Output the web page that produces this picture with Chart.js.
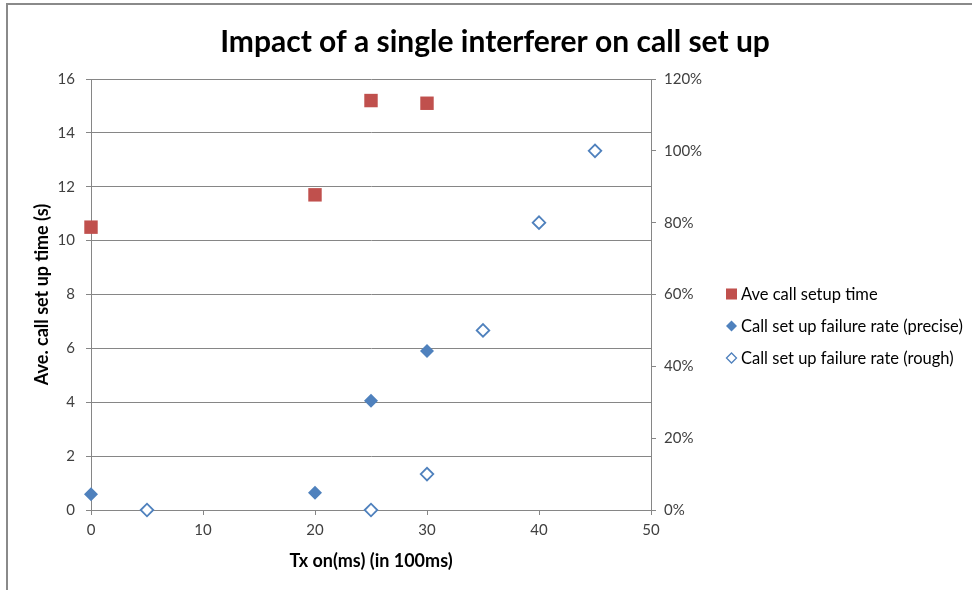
<!DOCTYPE html>
<html>
<head>
<meta charset="utf-8">
<script src="https://cdn.jsdelivr.net/npm/chart.js@4.4.1/dist/chart.umd.min.js"></script>
<style>
body{margin:0;background:#fff;}
#wrap{position:relative;width:972px;height:590px;overflow:hidden;}
#frame{position:absolute;left:6px;top:3px;width:1000px;height:700px;border:2px solid #8a8a8a;pointer-events:none;}
canvas{position:absolute;left:0;top:0;}
</style>
</head>
<body>
<div id="wrap">
<canvas id="chart" width="972" height="590"></canvas>
<div id="frame"></div>
</div>
<script>
// Tx on (in 100ms) and measured values
const setupTx = [0, 20, 25, 30];
const setupTime = [10.5, 11.7, 15.2, 15.1];

const preciseTx = [0, 20, 25, 30];
const preciseRate = [4.4, 4.8, 30.4, 44.3];

const roughTx = [5, 25, 30, 35, 40, 45];
const roughRate = [0, 0, 10, 50, 80, 100];

const xTicks = [0, 10, 20, 30, 40, 50];
const timeTicks = [0, 2, 4, 6, 8, 10, 12, 14, 16];
const rateTicks = [0, 20, 40, 60, 80, 100, 120];

const RED = "#C0504D";
const BLUE = "#4F81BD";
const AXIS = "#868686";
const FONT = "Lato";

function pts(xs, ys){
    return xs.map((x, i) => ({x: x, y: ys[i]}));
}

function setTicks(list){
    return scale => { scale.ticks = list.map(v => ({value: v})); };
}

// legend drawn at a fixed spot right of the plot
const sideLegend = {
    id: "sideLegend",
    afterDraw(chart){
        const ctx = chart.ctx;
        const marks = [
            {style: "rect", radius: 7.8, border: 0},
            {style: "rectRot", radius: 5.5, border: 0},
            {style: "rectRot", radius: 5, border: 1.3}
        ];
        chart.data.datasets.forEach((ds, i) => {
            const y = 294 + 32 * i;
            const m = marks[i];
            ctx.save();
            ctx.fillStyle = ds.backgroundColor;
            ctx.strokeStyle = ds.borderColor;
            ctx.lineWidth = m.border;
            Chart.helpers.drawPoint(ctx, {pointStyle: m.style, radius: m.radius, rotation: 0, borderWidth: m.border}, 731.5, y);
            ctx.fillStyle = "#000";
            ctx.font = "16.5px " + FONT;
            ctx.textBaseline = "middle";
            ctx.textAlign = "left";
            ctx.fillText(ds.label, 741, y + 1);
            ctx.restore();
        });
    }
};

new Chart(document.getElementById("chart"), {
    type: "scatter",
    data: {
        datasets: [
            {
                label: "Ave call setup time",
                data: pts(setupTx, setupTime),
                yAxisID: "y",
                clip: false,
                pointStyle: "rect",
                pointRadius: 9.5,
                pointHoverRadius: 9.5,
                borderWidth: 0,
                backgroundColor: RED,
                borderColor: RED
            },
            {
                label: "Call set up failure rate (precise)",
                data: pts(preciseTx, preciseRate),
                yAxisID: "y1",
                clip: false,
                pointStyle: "rectRot",
                pointRadius: 7,
                pointHoverRadius: 7,
                borderWidth: 0,
                backgroundColor: BLUE,
                borderColor: BLUE
            },
            {
                label: "Call set up failure rate (rough)",
                data: pts(roughTx, roughRate),
                yAxisID: "y1",
                clip: false,
                pointStyle: "rectRot",
                pointRadius: 6.3,
                pointHoverRadius: 6.3,
                borderWidth: 1.8,
                backgroundColor: "#fff",
                borderColor: BLUE
            }
        ]
    },
    options: {
        responsive: false,
        animation: false,
        layout: {padding: {left: 18, right: 0, top: 0, bottom: 0}},
        plugins: {
            legend: {display: false},
            tooltip: {enabled: false},
            title: {
                display: true,
                text: "Impact of a single interferer on call set up",
                color: "#000",
                font: {family: FONT, size: 30, weight: "bold"},
                padding: {top: 24, bottom: 19}
            }
        },
        scales: {
            x: {
                type: "linear",
                position: "bottom",
                min: 0,
                max: 50,
                afterBuildTicks: setTicks(xTicks),
                afterFit: scale => { scale.height = 80; },
                grid: {drawOnChartArea: false, drawTicks: true, tickLength: 5, color: AXIS},
                border: {color: AXIS},
                ticks: {padding: 6, color: "#404040", font: {family: FONT, size: 15}},
                title: {
                    display: true,
                    text: "Tx on(ms) (in 100ms)",
                    color: "#000",
                    font: {family: FONT, size: 18, weight: "bold"},
                    padding: {top: 0, bottom: 18}
                }
            },
            y: {
                position: "left",
                min: 0,
                max: 16,
                afterBuildTicks: setTicks(timeTicks),
                afterFit: scale => { scale.width = 73; },
                grid: {color: AXIS, tickLength: 5},
                border: {color: AXIS},
                ticks: {padding: 11, color: "#404040", font: {family: FONT, size: 15}},
                title: {
                    display: true,
                    text: "Ave. call set up time (s)",
                    color: "#000",
                    font: {family: FONT, size: 18, weight: "bold"},
                    padding: {top: 13.5, bottom: 0}
                }
            },
            y1: {
                position: "right",
                min: 0,
                max: 120,
                afterBuildTicks: setTicks(rateTicks),
                afterFit: scale => { scale.width = 321; },
                grid: {drawOnChartArea: false, tickLength: 5, color: AXIS},
                border: {color: AXIS},
                ticks: {
                    padding: 8,
                    color: "#404040",
                    font: {family: FONT, size: 15},
                    callback: v => v + "%"
                }
            }
        }
    },
    plugins: [sideLegend]
});
</script>
</body>
</html>
